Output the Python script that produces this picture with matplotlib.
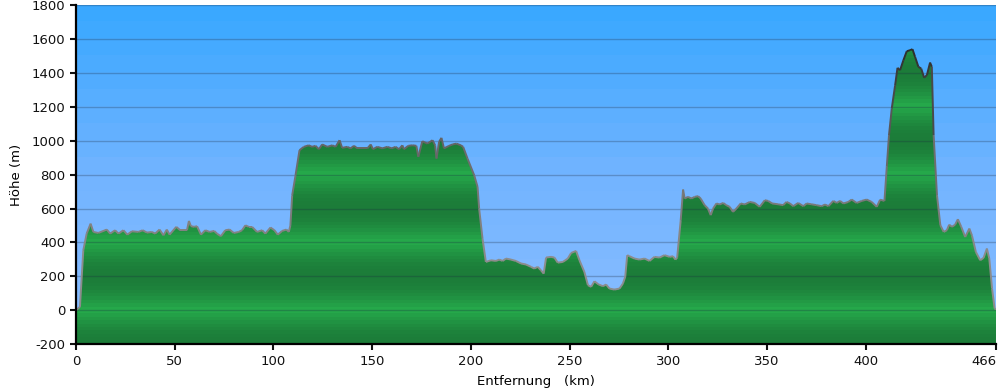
import numpy as np
import matplotlib.pyplot as plt
from matplotlib.collections import LineCollection
from matplotlib.colors import LinearSegmentedColormap
from matplotlib.patches import Polygon

plt.rcParams['axes.unicode_minus'] = False

# distance (km) and elevation (m)
km = [0, 2, 3.7, 5.4, 7.4, 8.8, 11.3, 15.6, 17.3, 19.8, 21.5, 24, 26, 28.3, 31.6,
      33.8, 35.9, 38.4, 40.1, 42.3, 44.3, 46, 47.4, 50.8, 52.8, 56.2, 57.2, 58.2,
      59.9, 61.3, 63.3, 65.5, 67.7, 70, 71.4, 73.4, 75.6, 77.8, 79.9, 82.4, 84.1,
      85.8, 87.5, 89.2, 91.7, 94.3, 95.9, 98.5, 100.5, 102.2, 104.4, 106.6, 107.8,
      108.6, 109.5, 111.2, 113.2, 115.4, 117.9, 119.6, 121.3, 123, 124.7, 127.3,
      129.8, 131.5, 133.5, 134.8, 137.4, 139.1, 140.8, 142.5, 147.6, 149.3, 150.4,
      152.6, 155.2, 157.7, 159.9, 161.9, 163.6, 165.3, 166.1, 168.3, 170.4, 172.4,
      173.4, 175.4, 178, 180.6, 181.9, 182.6, 183.9, 185.1, 186.4, 189, 190.7,
      192.7, 194.9, 196.1, 198.3, 201.7, 203.4, 204.2, 205.9, 207.6, 210.2, 212.7,
      214.4, 216.1, 217.8, 220.3, 222.8, 225.4, 227.9, 230.5, 232.1, 233.9, 235.5,
      236.9, 238.1, 240.6, 242.3, 244, 246.6, 249.1, 250.8, 253.3, 255, 257.5,
      259.3, 260.9, 262.6, 264.6, 266.9, 268.5, 270.2, 272.7, 275.3, 277, 278.2,
      279.2, 280.3, 282.9, 285.4, 288, 290.5, 293, 295.6, 298.1, 300.7, 302.4,
      303.6, 304.5, 306.3, 307.5, 308.3, 310, 311.7, 313.4, 315.1, 316.4, 318.4,
      320.1, 321.5, 322.7, 324.4, 326, 327.8, 329.4, 331.1, 332.8, 334.5, 336.7,
      338.7, 341.3, 343.8, 346.3, 348.9, 350.6, 352.6, 355.7, 358.2, 359.9, 361.6,
      363.3, 365.8, 368.4, 370.1, 372.6, 375.1, 377.7, 379.4, 381.1, 383.6, 385.3,
      387, 388.7, 391.2, 392.9, 395.4, 398, 400.5, 403, 405.6, 407.3, 409.5, 410.7,
      411.8, 413.2, 414.9, 416.1, 417.4, 419.1, 420.8, 422.5, 423.7, 425, 426.7,
      428.1, 429.6, 431, 432.6, 433.5, 434.4, 436.1, 437.8, 439.5, 441.1, 442.3,
      443.7, 445.3, 446.7, 448.4, 450.4, 452.5, 453.8, 455.8, 458, 459.7, 461.4,
      462.6, 464, 465.3, 466]
hoehe = [0, 20, 354, 452, 511, 462, 456, 476, 452, 472, 452, 472, 446, 466, 462,
         472, 458, 462, 452, 476, 442, 476, 446, 492, 472, 472, 527, 496,
         492, 496, 446, 472, 462, 468, 452, 437, 472, 476, 456, 462, 472,
         501, 492, 492, 462, 472, 452, 488, 472, 446, 468, 476, 462,
         501, 678, 796, 944, 964, 973, 964, 970, 950, 978, 964,
         973, 964, 1003, 958, 964, 955, 970, 955, 955, 978, 950,
         964, 955, 964, 955, 964, 950, 973, 950, 970, 973, 970,
         905, 997, 983, 1003, 973, 895, 993, 1017, 955, 970, 978,
         983, 973, 964, 895, 796, 728, 600, 423, 285, 295, 291,
         299, 291, 305, 299, 291, 276, 270, 256, 246, 256, 236,
         216, 311, 315, 311, 281, 285, 305, 338, 350, 295, 226,
         148, 138, 171, 153, 142, 152, 128, 122, 128, 157, 197,
         325, 319, 305, 299, 305, 291, 315, 311, 325, 315, 319,
         299, 310, 531, 712, 659, 669, 659, 669, 673, 659, 620,
         600, 561, 600, 630, 624, 633, 620, 610, 580, 600, 630,
         624, 639, 633, 610, 649, 645, 630, 625, 620, 639, 630,
         614, 633, 614, 630, 625, 620, 614, 624, 614, 645, 633,
         645, 630, 639, 653, 633, 645, 653, 639, 610, 652, 645, 850,
         1033, 1190, 1327, 1430, 1416, 1475, 1528, 1534, 1540, 1495, 1436,
         1426, 1372, 1387, 1461, 1436, 1033, 679, 502, 462, 472, 505,
         492, 505, 537, 492, 432, 482, 442, 344, 295, 309, 364,
         305, 128, 10, 5]

xticks = [0, 50, 100, 150, 200, 250, 300, 350, 400, 466]
yticks = [-200, 0, 200, 400, 600, 800, 1000, 1200, 1400, 1600, 1800]

fig = plt.figure(figsize=(10, 3.92), dpi=100)
ax = fig.add_axes([0.076, 0.122, 0.92, 0.865])
ax.set_xlim(0, 466)
ax.set_ylim(-200, 1800)

# sky gradient, banded
sky = LinearSegmentedColormap.from_list('sky', ['#8abdff', '#72b4ff', '#3aa8ff'])
ax.imshow(np.linspace(0, 1, 20)[:, None], cmap=sky, extent=[0, 466, -200, 1800],
          origin='lower', aspect='auto', interpolation='nearest', zorder=0)

# green fill, banded every 400 m
lev = np.arange(-200, 1800, 20) + 10
shade = np.abs(np.cos(np.pi * ((lev - 200) % 400) / 400))
grn = LinearSegmentedColormap.from_list('grn', ['#26ac4c', '#1c7c39'])
im = ax.imshow(shade[:, None], cmap=grn, vmin=0, vmax=1, extent=[0, 466, -200, 1800],
               origin='lower', aspect='auto', interpolation='nearest', zorder=1)
poly = Polygon([(km[0], -200)] + list(zip(km, hoehe)) + [(km[-1], -200)],
               closed=True, facecolor='none', edgecolor='none')
ax.add_patch(poly)
im.set_clip_path(poly)

# outline, darker the higher it gets
pts = np.column_stack([km, hoehe])
segs = np.stack([pts[:-1], pts[1:]], axis=1)
mid = (np.array(hoehe[:-1]) + np.array(hoehe[1:])) / 2
lc = LineCollection(segs, cmap=LinearSegmentedColormap.from_list('ln', ['#8c8c8c', '#6a6a6a', '#2a2a2a']),
                    linewidths=1.4, zorder=3)
lc.set_array(np.clip(mid, 300, 1550))
lc.set_clim(300, 1550)
ax.add_collection(lc)

ax.set_axisbelow(False)
ax.yaxis.grid(True, color='#1a2a40', alpha=0.28, lw=1)

for s in ['top', 'right']:
    ax.spines[s].set_visible(False)
for s in ['left', 'bottom']:
    ax.spines[s].set_linewidth(1.6)
    ax.spines[s].set_zorder(4)

ax.set_xticks(xticks)
ax.set_yticks(yticks)
ax.tick_params(direction='out', length=4, width=1.5, labelsize=9.5, colors='#111')
ax.get_xticklabels()[-1].set_horizontalalignment('right')
ax.set_xlabel('Entfernung   (km)', fontsize=9.5, labelpad=5)
ax.set_ylabel('Höhe (m)', fontsize=9.5, labelpad=6)

fig.savefig('out.png', dpi=100)
